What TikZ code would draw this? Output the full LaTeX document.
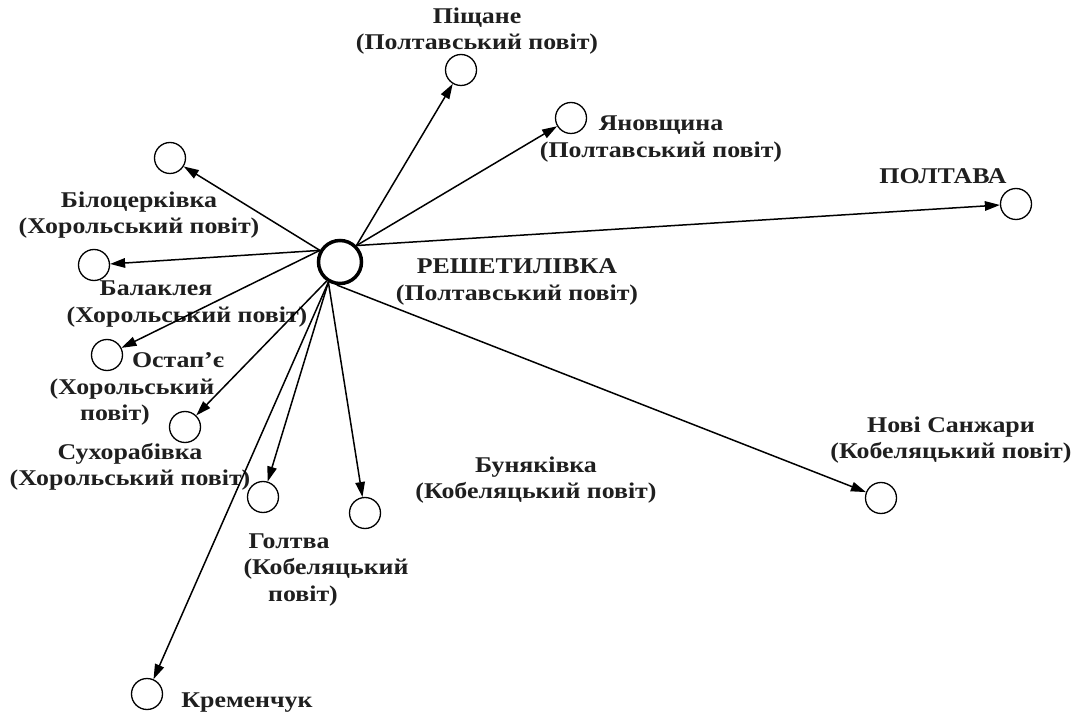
\documentclass[tikz,border=0pt]{standalone}
\usepackage{fontspec}
\setmainfont{Liberation Serif}[FakeStretch=1.15]
\usetikzlibrary{arrows.meta}
\begin{document}
\begin{tikzpicture}[x=1pt,y=-1pt,
  place/.style={circle,draw,line width=1.3pt,minimum size=31pt,inner sep=0pt},
  hub/.style={circle,draw,line width=3.5pt,minimum size=43pt,inner sep=0pt},
  lbl/.style={font=\bfseries\fontsize{22.5}{26.5}\selectfont,align=center,inner sep=0pt,text=black!88},
  link/.style={line width=1.5pt,-{Triangle[length=15pt,width=9.5pt]}}]
\useasboundingbox (0,0) rectangle (1077,719);
% circles
\node[hub] (c) at (340,262) {};
\node[place] (pis) at (461,70) {};
\node[place] (yan) at (571,118) {};
\node[place] (pol) at (1016,204) {};
\node[place] (bil) at (170,158) {};
\node[place] (bal) at (94,265) {};
\node[place] (ost) at (107,355) {};
\node[place] (suh) at (185,427) {};
\node[place] (golt) at (263,497) {};
\node[place] (bun) at (365,513) {};
\node[place] (ns) at (881,498) {};
\node[place] (kr) at (147,694) {};
% labels
\node[lbl] (tpis) at (477,31) {Піщане\\(Полтавський повіт)};
\node[lbl] (tyan) at (661,139) {Яновщина\\(Полтавський повіт)};
\node[lbl] (tpol) at (943,176) {ПОЛТАВА};
\node[lbl] (tc) at (517,282) {РЕШЕТИЛІВКА\\(Полтавський повіт)};
\node[lbl] (tbil) at (139,215) {Білоцерківка\\(Хорольський повіт)};
\node[lbl] (tbal) at (187,304) {\hspace*{-62pt}Балаклея\\(Хорольський повіт)};
\node[lbl] (tost) at (142,389) {\hspace*{72pt}Остап’є\\\hspace*{-20pt}(Хорольський\\\hspace*{-54pt}повіт)};
\node[lbl] (tsuh) at (130,467) {Сухорабівка\\(Хорольський повіт)};
\node[lbl] (tgolt) at (305,570) {\hspace*{-32pt}Голтва\\\hspace*{42pt}(Кобеляцький\\\hspace*{-4pt}повіт)};
\node[lbl] (tbun) at (536,480) {Буняківка\\(Кобеляцький повіт)};
\node[lbl] (tns) at (951,440) {Нові Санжари\\(Кобеляцький повіт)};
\node[lbl] (tkr) at (247,703) {Кременчук};
% connectors
\draw[link] (c.45) -- (pis);
\draw[link] (c.45) -- (yan);
\draw[link] (c.45) -- (pol);
\draw[link] (c.150) -- (bil);
\draw[link] (c.150) -- (bal);
\draw[link] (c.150) -- (ost);
\draw[link] (c.235) -- (suh);
\draw[link] (c.240) -- (golt);
\draw[link] (c.240) -- (bun);
\draw[link] (c.240) -- (kr);
\draw[link] (c.262) -- (ns);
\end{tikzpicture}
\end{document}
